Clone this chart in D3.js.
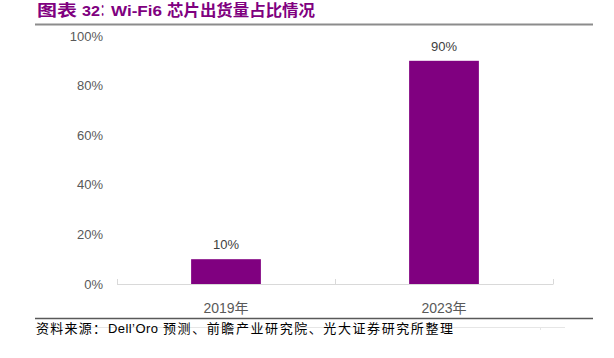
<!DOCTYPE html>
<html>
<head>
<meta charset="utf-8">
<script src="https://cdn.jsdelivr.net/npm/d3@7"></script>
<style>
  body { margin: 0; background: #fff; }
  svg { display: block; }
</style>
</head>
<body>
<svg id="chart" width="614" height="358"></svg>
<script>
const categories = ['2019年', '2023年'];
const shares = [0.10, 0.90];
const yTicks = [0, 0.2, 0.4, 0.6, 0.8, 1.0];

// text pieces with the span they take in the picture
const titleParts = [
    { text: '图表', x: 37, w: 40 },
    { text: '32', x: 82, w: 18 },
    { text: 'Wi-Fi6', x: 111, w: 51 },
    { text: '芯片出货量占比情况', x: 167, w: 148 }
];
const sourceParts = [
    { text: '资料来源：', x: 36, w: 70 },
    { text: 'Dell\u2019Oro', x: 108, w: 50 },
    { text: '预测、前瞻产业研究院、光大证券研究所整理', x: 163, w: 290 }
];

const svg = d3.select('#chart');
const purple = '#800080';
const labelFont = '"Liberation Sans", Arial, "Noto Sans CJK SC", sans-serif';

// header
const header = svg.append('g')
    .attr('fill', purple)
    .style('font-family', labelFont)
    .style('font-weight', 'bold')
    .style('font-size', '15.5px');

header.selectAll('.title')
    .data(titleParts)
    .join('text')
    .attr('class', 'title')
    .attr('x', d => d.x)
    .attr('y', 16)
    .attr('textLength', d => d.w)
    .attr('lengthAdjust', 'spacingAndGlyphs')
    .text(d => d.text);

// full-width colon, squeezed so it sits between "32" and "Wi-Fi6"
header.append('text')
    .attr('transform', 'translate(100.5,16) scale(0.55,1)')
    .text('：');

svg.append('line')
    .attr('x1', 35).attr('x2', 593)
    .attr('y1', 24.5).attr('y2', 24.5)
    .attr('stroke', '#8c8c8c')
    .attr('stroke-width', 2);

const x = d3.scaleBand()
    .domain(categories)
    .range([117, 553])
    .paddingInner(0.68)
    .paddingOuter(0.34);

const y = d3.scaleLinear()
    .domain([0, 1])
    .range([284, 36]);

// y axis labels (no axis line)
const yAxis = svg.append('g')
    .attr('transform', 'translate(103,0)')
    .call(d3.axisLeft(y).tickValues(yTicks).tickFormat(d3.format('.0%')).tickSize(0).tickPadding(0));
yAxis.select('.domain').remove();
yAxis.selectAll('text')
    .attr('fill', '#595959')
    .style('font-family', labelFont)
    .style('font-size', '13px');

// bars
svg.selectAll('.bar')
    .data(shares)
    .join('rect')
    .attr('class', 'bar')
    .attr('x', (d, i) => x(categories[i]))
    .attr('width', x.bandwidth())
    .attr('y', d => y(d))
    .attr('height', d => y(0) - y(d))
    .attr('fill', purple);

svg.selectAll('.val')
    .data(shares)
    .join('text')
    .attr('class', 'val')
    .attr('x', (d, i) => x(categories[i]) + x.bandwidth() / 2)
    .attr('y', d => y(d) - 10)
    .attr('text-anchor', 'middle')
    .attr('fill', '#404040')
    .style('font-family', labelFont)
    .style('font-size', '13px')
    .text(d => d3.format('.0%')(d));

// x axis: line with upward tick marks at band edges
const xAxis = svg.append('g');
xAxis.append('line')
    .attr('x1', x.range()[0]).attr('x2', x.range()[1])
    .attr('y1', y(0) + 0.5).attr('y2', y(0) + 0.5)
    .attr('stroke', '#d9d9d9');

const step = x.step();
const edges = [x.range()[0], x.range()[0] + step, x.range()[1]];
xAxis.selectAll('.edge')
    .data(edges)
    .join('line')
    .attr('class', 'edge')
    .attr('x1', d => d + 0.5).attr('x2', d => d + 0.5)
    .attr('y1', y(0) - 5).attr('y2', y(0) + 0.5)
    .attr('stroke', '#d9d9d9');

xAxis.selectAll('.cat')
    .data(categories)
    .join('text')
    .attr('class', 'cat')
    .attr('x', d => x(d) + x.bandwidth() / 2)
    .attr('y', 313)
    .attr('text-anchor', 'middle')
    .attr('fill', '#595959')
    .style('font-family', labelFont)
    .style('font-size', '14px')
    .text(d => d);

// footer
svg.append('line')
    .attr('x1', 35).attr('x2', 593)
    .attr('y1', 318.5).attr('y2', 318.5)
    .attr('stroke', '#595959')
    .attr('stroke-width', 1.5);

svg.append('line')
    .attr('x1', 35).attr('x2', 565)
    .attr('y1', 327.5).attr('y2', 327.5)
    .attr('stroke', '#e6e6e6');
svg.append('line')
    .attr('x1', 540.5).attr('x2', 540.5)
    .attr('y1', 327.5).attr('y2', 330)
    .attr('stroke', '#e6e6e6');

svg.selectAll('.src')
    .data(sourceParts)
    .join('text')
    .attr('class', 'src')
    .attr('x', d => d.x)
    .attr('y', 333)
    .attr('textLength', d => d.w)
    .attr('lengthAdjust', 'spacing')
    .attr('fill', '#000')
    .style('font-family', labelFont)
    .style('font-size', '13px')
    .text(d => d.text);
</script>
</body>
</html>
